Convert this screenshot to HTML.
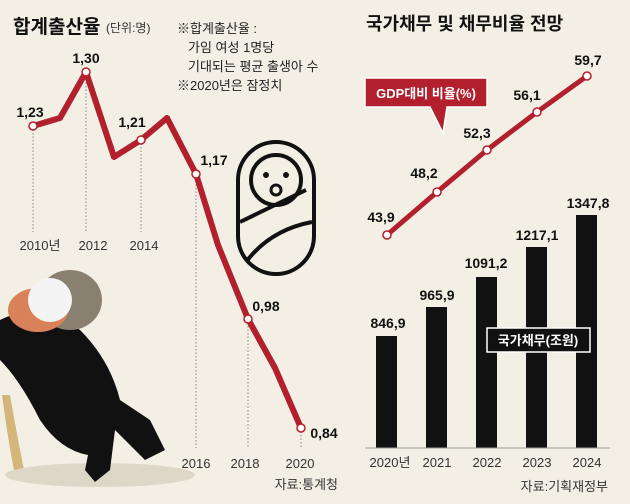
<!DOCTYPE html>
<html><head><meta charset="utf-8"><style>
html,body{margin:0;padding:0;background:#f3efe4;}
svg{display:block;}
text{font-family:"Liberation Sans","Noto Sans CJK KR",sans-serif;}
</style></head><body>
<svg width="630" height="504" viewBox="0 0 630 504" xmlns="http://www.w3.org/2000/svg">
<rect width="630" height="504" fill="#f3efe4"/>
<!-- Left chart -->
<text x="13" y="33" font-size="19" font-weight="bold" fill="#111">합계출산율</text>
<text x="106" y="32" font-size="12" fill="#333">(단위:명)</text>
<g font-size="13" fill="#222">
<text x="177" y="33">※합계출산율 :</text>
<text x="188" y="52">가임 여성 1명당</text>
<text x="188" y="71">기대되는 평균 출생아 수</text>
<text x="177" y="90">※2020년은 잠정치</text>
</g>
<g stroke="#888" stroke-width="1" stroke-dasharray="1.5,2">
<line x1="33" y1="126" x2="33" y2="232"/>
<line x1="86" y1="72" x2="86" y2="232"/>
<line x1="141" y1="140" x2="141" y2="232"/>
<line x1="196" y1="174" x2="196" y2="448"/>
<line x1="248" y1="319" x2="248" y2="448"/>
<line x1="301" y1="428" x2="301" y2="448"/>
</g>
<!-- baby icon -->
<g fill="none" stroke="#111" stroke-width="4">
<rect x="238" y="142" width="76" height="132" rx="38"/>
<circle cx="276" cy="180" r="25"/>
<path d="M240 222 L306 190 M246 262 Q270 230 312 222"/>
</g>
<circle cx="266" cy="175" r="3" fill="#111"/><circle cx="286" cy="175" r="3" fill="#111"/>
<circle cx="276" cy="190" r="5" fill="none" stroke="#111" stroke-width="3"/>
<!-- man illustration -->
<path d="M2 395 Q8 440 14 470 L24 470 Q16 430 10 395 Z" fill="#d4b57a"/>
<ellipse cx="100" cy="475" rx="95" ry="12" fill="#ddd7c8"/>
<path d="M0 320 Q40 300 80 330 Q110 360 120 400 L150 420 L165 450 L145 460 L115 430 L110 470 L95 482 L85 470 L88 455 Q60 450 40 420 Q20 380 0 360 Z" fill="#111"/>
<ellipse cx="70" cy="300" rx="32" ry="30" fill="#8a8070"/>
<ellipse cx="38" cy="310" rx="30" ry="22" fill="#d9825a"/>
<circle cx="50" cy="300" r="22" fill="#f4f4f4"/>
<!-- left line -->
<polyline points="33,126 60,118 86,72 114,157 141,140 167,118 196,174 218,245 248,319 275,368 301,428" fill="none" stroke="#b21f2d" stroke-width="6" stroke-linejoin="round"/>
<g fill="#fff" stroke="#b21f2d" stroke-width="1.5">
<circle cx="33" cy="126" r="4"/><circle cx="86" cy="72" r="4"/><circle cx="141" cy="140" r="4"/>
<circle cx="196" cy="174" r="4"/><circle cx="248" cy="319" r="4"/><circle cx="301" cy="428" r="4"/>
</g>
<g font-size="14" font-weight="bold" fill="#111" text-anchor="middle">
<text x="30" y="117">1,23</text><text x="86" y="63">1,30</text><text x="132" y="127">1,21</text>
<text x="214" y="165">1,17</text><text x="266" y="311">0,98</text><text x="324" y="438">0,84</text>
</g>
<g font-size="13" fill="#333" text-anchor="middle">
<text x="40" y="250">2010년</text><text x="93" y="250">2012</text><text x="144" y="250">2014</text>
<text x="196" y="468">2016</text><text x="245" y="468">2018</text><text x="300" y="468">2020</text>
</g>
<text x="338" y="489" font-size="13" fill="#333" text-anchor="end">자료:통계청</text>
<!-- Right chart -->
<text x="366" y="30" font-size="18" font-weight="bold" fill="#111">국가채무 및 채무비율 전망</text>
<g fill="#111">
<rect x="376" y="336" width="21" height="112"/><rect x="426" y="307" width="21" height="141"/>
<rect x="476" y="277" width="21" height="171"/><rect x="526" y="247" width="21" height="201"/>
<rect x="576" y="215" width="21" height="233"/>
</g>
<line x1="365" y1="448" x2="610" y2="448" stroke="#999" stroke-width="1"/>
<polyline points="387,235 437,192 487,150 537,112 587,76" fill="none" stroke="#b21f2d" stroke-width="5"/>
<g fill="#fff" stroke="#b21f2d" stroke-width="1.5">
<circle cx="387" cy="235" r="4"/><circle cx="437" cy="192" r="4"/><circle cx="487" cy="150" r="4"/><circle cx="537" cy="112" r="4"/><circle cx="587" cy="76" r="4"/>
</g>
<g font-size="14" font-weight="bold" fill="#111" text-anchor="middle">
<text x="381" y="222">43,9</text><text x="424" y="178">48,2</text><text x="477" y="138">52,3</text>
<text x="527" y="100">56,1</text><text x="588" y="65">59,7</text>
<text x="388" y="328">846,9</text><text x="437" y="300">965,9</text><text x="486" y="268">1091,2</text>
<text x="537" y="240">1217,1</text><text x="588" y="208">1347,8</text>
</g>
<path d="M365 78 H487 V107 H447 L443 133 L430 107 H365 Z" fill="#b21f2d" stroke="#fff" stroke-width="1.5"/>
<text x="426" y="98" font-size="13" font-weight="bold" fill="#fff" text-anchor="middle">GDP대비 비율(%)</text>
<rect x="487" y="328" width="103" height="24" fill="#111" stroke="#fff" stroke-width="1.5"/>
<text x="538" y="345" font-size="13" font-weight="bold" fill="#fff" text-anchor="middle">국가채무(조원)</text>
<g font-size="13" fill="#333" text-anchor="middle">
<text x="390" y="467">2020년</text><text x="437" y="467">2021</text><text x="487" y="467">2022</text><text x="537" y="467">2023</text><text x="587" y="467">2024</text>
</g>
<text x="608" y="491" font-size="13" fill="#333" text-anchor="end">자료:기획재정부</text>
</svg>
</body></html>
